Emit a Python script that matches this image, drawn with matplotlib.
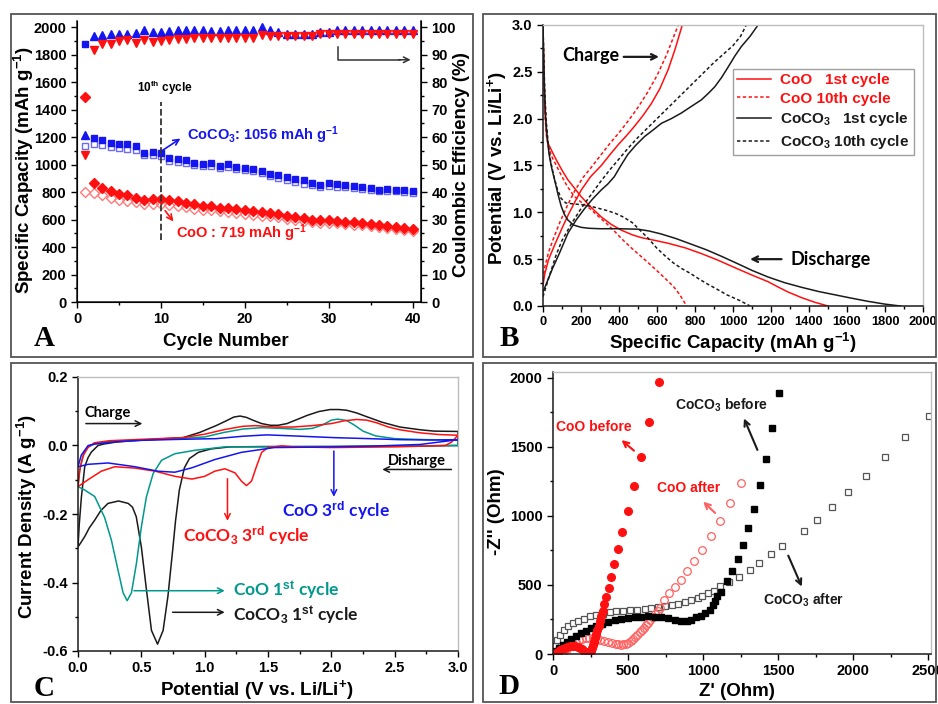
import numpy as np
import matplotlib
matplotlib.use("Agg")
import matplotlib.pyplot as plt
from matplotlib.patches import Rectangle
from matplotlib.ticker import MultipleLocator, FormatStrFormatter

plt.rcParams['font.family'] = ['Liberation Sans', 'DejaVu Sans']
plt.rcParams['font.weight'] = 'bold'
plt.rcParams['mathtext.fontset'] = 'custom'
plt.rcParams['mathtext.rm'] = 'Liberation Sans:bold'
plt.rcParams['mathtext.bf'] = 'Liberation Sans:bold'
plt.rcParams['mathtext.default'] = 'bf'
plt.rcParams['axes.unicode_minus'] = False

# ---------------- panel A : cycling ----------------
cycles = np.arange(1, 41)
coco3_cap_a = [1874, 1195, 1181, 1159, 1151, 1151, 1134, 1084, 1088, 1084,
               1047, 1038, 1030, 1013, 1001, 1011, 989, 1006, 982, 975,
               965, 950, 933, 926, 909, 897, 885, 868, 853, 863,
               856, 848, 841, 834, 829, 817, 822, 817, 812, 807]
coco3_cap_b = [1134, 1151, 1144, 1127, 1120, 1115, 1108, 1071, 1067, 1062,
               1023, 1016, 1008, 994, 987, 989, 975, 982, 965, 958,
               950, 936, 916, 904, 885, 873, 861, 848, 839, 844,
               839, 834, 827, 822, 817, 807, 810, 805, 800, 795]
coo_cap_a = [1491, 865, 829, 807, 788, 776, 759, 744, 752, 747,
             739, 732, 722, 710, 698, 696, 686, 686, 674, 667,
             662, 655, 647, 640, 628, 621, 613, 596, 594, 594,
             589, 582, 579, 575, 570, 558, 555, 545, 541, 533]
coo_cap_b = [800, 793, 776, 759, 744, 735, 725, 715, 715, 710,
             703, 696, 691, 679, 672, 667, 659, 657, 647, 642,
             635, 628, 623, 616, 606, 599, 591, 579, 577, 577,
             572, 565, 562, 558, 553, 543, 541, 531, 526, 519]
coco3_ce = [60.6, 96.6, 97.1, 97.6, 97.6, 97.3, 97.9, 98.8, 98.2, 98.2,
            98.5, 98.8, 98.8, 98.8, 99.0, 98.5, 98.5, 98.8, 98.8, 98.8,
            99.0, 100.0, 99.0, 98.2, 97.6, 97.3, 97.3, 97.6, 98.2, 98.2,
            98.8, 98.8, 98.8, 98.8, 98.8, 98.8, 98.8, 98.8, 98.8, 98.8]
coo_ce = [53.3, 91.5, 93.9, 93.9, 94.9, 95.4, 94.3, 95.2, 94.5, 94.9,
          95.2, 95.5, 95.8, 96.1, 96.1, 96.1, 96.1, 96.1, 96.1, 96.1,
          96.1, 97.0, 96.6, 96.6, 96.6, 96.6, 96.6, 96.6, 97.3, 97.3,
          97.3, 97.3, 97.3, 97.3, 97.3, 97.3, 97.3, 97.3, 97.3, 97.3]

# ---------------- panel B : charge / discharge ----------------
coo1_dis_x = [0, 5, 10, 18, 26, 45, 70, 100, 130, 165, 200, 250, 307, 360, 412,
              470, 517, 590, 658, 750, 833, 920, 1020, 1100, 1184, 1240, 1289,
              1360, 1430, 1500]
coo1_dis_y = [2.95, 2.5, 2.1, 1.85, 1.74, 1.66, 1.56, 1.45, 1.35, 1.26, 1.17,
              1.06, 0.95, 0.87, 0.81, 0.76, 0.73, 0.70, 0.67, 0.62, 0.56, 0.49,
              0.40, 0.33, 0.26, 0.2, 0.15, 0.09, 0.04, 0.0]
coo1_chg_x = [0, 10, 30, 61, 100, 132, 170, 202, 250, 307, 350, 395, 440, 482,
              525, 570, 615, 658, 695, 733]
coo1_chg_y = [0.22, 0.35, 0.5, 0.65, 0.83, 0.97, 1.12, 1.24, 1.38, 1.5, 1.61,
              1.72, 1.82, 1.92, 2.03, 2.16, 2.32, 2.52, 2.74, 3.0]
coo10_dis_x = [0, 5, 10, 18, 28, 45, 70, 100, 130, 165, 200, 247, 290, 335, 380,
               423, 465, 510, 555, 598, 640, 686, 720, 756]
coo10_dis_y = [2.95, 2.45, 2.05, 1.82, 1.7, 1.6, 1.5, 1.38, 1.27, 1.17, 1.11,
               1.04, 0.96, 0.88, 0.79, 0.70, 0.62, 0.54, 0.46, 0.38, 0.30, 0.21,
               0.12, 0.0]
coo10_chg_x = [0, 10, 30, 55, 90, 130, 170, 210, 250, 300, 350, 400, 450, 500,
               550, 600, 650, 712]
coo10_chg_y = [0.28, 0.42, 0.58, 0.72, 0.9, 1.08, 1.24, 1.37, 1.47, 1.6, 1.73,
               1.85, 1.98, 2.12, 2.28, 2.46, 2.68, 3.0]
cc1_dis_x = [0, 4, 8, 14, 22, 32, 45, 63, 78, 95, 112, 130, 160, 200, 240, 300,
             400, 500, 560, 620, 700, 780, 860, 940, 1037, 1100, 1184, 1270,
             1360, 1450, 1535, 1620, 1710, 1800, 1880]
cc1_dis_y = [3.0, 2.6, 2.3, 2.0, 1.8, 1.62, 1.48, 1.33, 1.2, 1.07, 0.98, 0.92,
             0.865, 0.84, 0.83, 0.825, 0.825, 0.82, 0.80, 0.77, 0.72, 0.66, 0.6,
             0.53, 0.44, 0.38, 0.31, 0.25, 0.2, 0.155, 0.12, 0.085, 0.05, 0.02, 0.0]
cc1_chg_x = [0, 20, 50, 90, 132, 175, 219, 260, 307, 340, 375, 410, 447, 490,
             535, 580, 623, 675, 728, 780, 833, 870, 904, 940, 974, 1010, 1044,
             1090, 1132]
cc1_chg_y = [0.15, 0.25, 0.4, 0.58, 0.78, 0.92, 1.04, 1.14, 1.24, 1.3, 1.38, 1.5,
             1.62, 1.72, 1.81, 1.88, 1.95, 2.0, 2.06, 2.13, 2.2, 2.27, 2.34, 2.44,
             2.55, 2.67, 2.77, 2.88, 3.0]
cc10_dis_x = [0, 5, 10, 18, 28, 40, 55, 75, 95, 120, 160, 212, 270, 335, 380,
              423, 470, 510, 555, 598, 640, 686, 730, 774, 820, 861, 915, 967,
              1037, 1090]
cc10_dis_y = [3.0, 2.6, 2.25, 1.95, 1.72, 1.55, 1.4, 1.25, 1.15, 1.1, 1.09, 1.08,
              1.055, 1.02, 0.99, 0.95, 0.89, 0.81, 0.72, 0.62, 0.54, 0.46, 0.40,
              0.35, 0.29, 0.24, 0.18, 0.12, 0.057, 0.0]
cc10_chg_x = [0, 30, 70, 100, 150, 200, 250, 300, 350, 400, 450, 500, 550, 600,
              650, 700, 750, 800, 850, 900, 950, 1000, 1040, 1070]
cc10_chg_y = [0.1, 0.3, 0.55, 0.7, 0.88, 1.04, 1.18, 1.32, 1.45, 1.57, 1.69, 1.8,
              1.9, 2.0, 2.1, 2.2, 2.3, 2.4, 2.5, 2.6, 2.69, 2.78, 2.88, 3.0]

# ---------------- panel C : cyclic voltammetry ----------------
cv_cc1_x = [3.0, 2.5, 2.0, 1.5, 1.2, 1.05, 0.95, 0.88, 0.84, 0.80, 0.77, 0.75,
            0.71, 0.672, 0.628, 0.58, 0.54, 0.50, 0.46, 0.43, 0.396, 0.32, 0.237,
            0.18, 0.132, 0.09, 0.053, 0.02, 0.0,
            0.01, 0.027, 0.053, 0.08, 0.106, 0.158, 0.2, 0.3, 0.435, 0.6, 0.83,
            0.96, 1.09, 1.17, 1.23, 1.28, 1.33, 1.38, 1.45, 1.52, 1.58, 1.65,
            1.73, 1.81, 1.9, 1.99, 2.06, 2.12, 2.2, 2.28, 2.4, 2.54, 2.7, 2.81,
            3.0, 3.0]
cv_cc1_y = [0.0, -0.002, -0.003, -0.003, -0.004, -0.01, -0.02, -0.038, -0.065,
            -0.13, -0.22, -0.296, -0.44, -0.54, -0.58, -0.54, -0.42, -0.296,
            -0.208, -0.18, -0.169, -0.162, -0.169, -0.19, -0.218, -0.24, -0.266,
            -0.285, -0.296,
            -0.23, -0.15, -0.062, -0.035, -0.019, 0.0, 0.004, 0.01, 0.014, 0.018,
            0.023, 0.038, 0.058, 0.072, 0.083, 0.086, 0.082, 0.074, 0.064, 0.059,
            0.059, 0.064, 0.076, 0.088, 0.099, 0.105, 0.105, 0.103, 0.095, 0.084,
            0.068, 0.054, 0.046, 0.042, 0.041, 0.0]
cv_coo1_x = [3.0, 2.0, 1.5, 1.16, 0.923, 0.765, 0.66, 0.593, 0.54, 0.5, 0.461,
             0.422, 0.388, 0.356, 0.316, 0.264, 0.21, 0.132, 0.053, 0.0,
             0.01, 0.026, 0.05, 0.08, 0.13, 0.25, 0.5, 0.8, 1.0, 1.15, 1.3, 1.45,
             1.6, 1.75, 1.85, 1.93, 2.0, 2.05, 2.12, 2.18, 2.25, 2.35, 2.5, 2.75,
             3.0, 3.0]
cv_coo1_y = [0.0, -0.003, -0.004, -0.004, -0.014, -0.024, -0.043, -0.082, -0.15,
             -0.238, -0.345, -0.43, -0.453, -0.43, -0.364, -0.277, -0.21, -0.149,
             -0.13, -0.12,
             -0.08, -0.05, -0.02, -0.005, 0.005, 0.012, 0.016, 0.02, 0.025, 0.038,
             0.048, 0.052, 0.05, 0.047, 0.05, 0.06, 0.074, 0.077, 0.073, 0.06,
             0.042, 0.028, 0.02, 0.017, 0.016, 0.0]
cv_cc3_x = [3.0, 2.95, 2.9, 2.5, 2.0, 1.7, 1.61, 1.5, 1.45, 1.41, 1.37, 1.33,
            1.29, 1.24, 1.16, 1.08, 1.0, 0.9, 0.765, 0.61, 0.45, 0.29, 0.184,
            0.079, 0.0,
            0.015, 0.04, 0.08, 0.13, 0.25, 0.5, 0.83, 1.0, 1.15, 1.3, 1.4, 1.55,
            1.7, 1.85, 2.0, 2.1, 2.2, 2.28, 2.36, 2.45, 2.54, 2.7, 2.85, 3.0]
cv_cc3_y = [0.03, 0.01, 0.0, -0.004, -0.006, -0.004, -0.001, -0.006, -0.02,
            -0.06, -0.104, -0.117, -0.104, -0.08, -0.068, -0.075, -0.09, -0.098,
            -0.09, -0.075, -0.066, -0.062, -0.075, -0.1, -0.12,
            -0.07, -0.03, -0.005, 0.008, 0.014, 0.018, 0.023, 0.033, 0.046, 0.056,
            0.058, 0.054, 0.054, 0.058, 0.064, 0.072, 0.076, 0.074, 0.066, 0.054,
            0.046, 0.037, 0.032, 0.03]
cv_coo3_x = [3.0, 2.7, 2.3, 2.0, 1.8, 1.55, 1.29, 1.08, 0.9, 0.765, 0.63, 0.45,
             0.237, 0.08, 0.0,
             0.026, 0.08, 0.13, 0.3, 0.5, 0.8, 1.09, 1.3, 1.49, 1.7, 2.02, 2.3,
             2.54, 2.8, 3.0]
cv_coo3_y = [0.017, 0.003, -0.002, -0.004, -0.005, -0.006, -0.02, -0.041, -0.065,
             -0.078, -0.075, -0.062, -0.051, -0.055, -0.062,
             -0.028, 0.0, 0.004, 0.011, 0.015, 0.018, 0.02, 0.027, 0.031, 0.028,
             0.023, 0.02, 0.017, 0.016, 0.017]

# ---------------- panel D : impedance ----------------
coo_before_re = [10, 22, 35, 48, 62, 78, 95, 112, 130, 148, 165, 180, 195, 208,
                 220, 232, 243, 252, 260, 267, 274, 281, 288, 296, 304, 313, 322,
                 331, 342, 354, 371, 387, 409, 431, 463, 498, 538, 587, 643, 705]
coo_before_im = [0, 8, 17, 26, 35, 43, 50, 55, 58, 57, 52, 44, 33, 22, 12, 6, 8,
                 20, 40, 63, 88, 114, 142, 172, 205, 240, 275, 309, 360, 413, 480,
                 560, 649, 758, 885, 1037, 1216, 1426, 1679, 1973]
coo_after_re = [60, 75, 92, 110, 130, 150, 172, 195, 218, 242, 266, 290, 315, 340,
                366, 392, 418, 434, 450, 467, 484, 500, 517, 534, 549, 563, 578,
                592, 606, 620, 635, 649, 665, 681, 697, 712, 743, 776, 810, 850,
                894, 943, 994, 1054, 1114, 1177, 1254]
coo_after_im = [5, 20, 38, 55, 72, 86, 98, 108, 115, 118, 117, 112, 105, 96, 87,
                79, 72, 69, 68, 70, 74, 82, 93, 106, 120, 138, 157, 175, 191, 210,
                227, 246, 268, 290, 310, 330, 388, 441, 483, 538, 603, 675, 755,
                856, 965, 1093, 1237]
cc_before_re = [18, 40, 67, 93, 122, 156, 189, 222, 256, 289, 329, 367, 411, 456,
                500, 545, 589, 634, 678, 723, 767, 812, 856, 890, 923, 956, 985,
                1012, 1046, 1064, 1079, 1094, 1117, 1157, 1194, 1230, 1266, 1303,
                1341, 1381, 1421, 1461, 1504]
cc_before_im = [19, 43, 68, 89, 109, 130, 150, 169, 186, 200, 217, 229, 244, 253,
                261, 268, 270, 273, 270, 265, 258, 248, 241, 241, 248, 268, 277,
                296, 321, 352, 381, 417, 446, 526, 598, 690, 791, 912, 1054, 1223,
                1414, 1638, 1894]
cc_after_re = [3, 11, 27, 44, 71, 100, 133, 167, 207, 245, 289, 334, 378, 423, 467,
               512, 560, 612, 656, 701, 745, 790, 834, 879, 923, 967, 992, 1030,
               1070, 1112, 1170, 1237, 1310, 1373, 1453, 1526, 1673, 1762, 1862,
               1968, 2084, 2211, 2344, 2504]
cc_after_im = [10, 55, 104, 140, 171, 200, 224, 241, 256, 273, 285, 292, 302, 309,
               314, 318, 321, 326, 331, 338, 345, 352, 364, 376, 388, 405, 422, 441,
               460, 490, 518, 555, 610, 657, 723, 784, 890, 970, 1066, 1172, 1286,
               1426, 1571, 1727]

RED = '#ff1010'
BLUE = '#1515f0'
TEAL = '#00998c'
BLK = '#1a1a1a'
GRAY_SP = '#bdbdbd'
CAL = ['Lato', 'DejaVu Sans']
SERIF = ['Liberation Serif', 'DejaVu Serif']

W, H = 938, 704
fig = plt.figure(figsize=(W / 100, H / 100), dpi=100)


def box(l, t, r, b):
    return [l / W, 1 - b / H, (r - l) / W, (b - t) / H]


def ftext(x, y, s, **kw):
    fig.text(x / W, 1 - y / H, s, **kw)


# panel frames
for l, t, r, b in [(11, 14, 473, 357), (483, 14, 936, 357),
                   (11, 363, 473, 702), (483, 363, 936, 702)]:
    fig.add_artist(Rectangle((l / W, 1 - b / H), (r - l) / W, (b - t) / H,
                             transform=fig.transFigure, fill=False,
                             edgecolor='#555555', lw=1.3))


def style(ax, light=True, xsize=10.5):
    ax.tick_params(which='major', direction='out', length=4, width=1,
                   labelsize=10.5)
    ax.tick_params(axis='x', labelsize=xsize)
    ax.tick_params(which='minor', direction='out', length=2.5, width=1)
    for s in ['left', 'bottom']:
        ax.spines[s].set_color(BLK)
        ax.spines[s].set_linewidth(1.1)
    if light:
        for s in ['top', 'right']:
            ax.spines[s].set_color(GRAY_SP)
            ax.spines[s].set_linewidth(1.0)


# ---------- A ----------
axA = fig.add_axes(box(77, 21, 421, 302))
axA.plot(cycles, coco3_cap_b, 's', ms=5, mfc='none', mec='#6a6af5', mew=1.0)
axA.plot(cycles, coco3_cap_a, 's', ms=5, color=BLUE)
axA.plot(cycles, coo_cap_b, 'D', ms=5, mfc='none', mec='#ff7a7a', mew=1.0)
axA.plot(cycles, coo_cap_a, 'D', ms=5, color=RED)
axA.set_xlim(0, 41)
axA.set_ylim(0, 2044)
axA.xaxis.set_major_locator(MultipleLocator(10))
axA.xaxis.set_minor_locator(MultipleLocator(5))
axA.yaxis.set_major_locator(MultipleLocator(200))
axA.yaxis.set_minor_locator(MultipleLocator(100))
style(axA, light=False)
axA.spines['top'].set_visible(False)
axA2 = axA.twinx()
axA2.plot(cycles, coco3_ce, '^', ms=6, color=BLUE)
axA2.plot(cycles, coo_ce, 'v', ms=6, color=RED)
axA2.set_ylim(0, 102.2)
axA2.yaxis.set_major_locator(MultipleLocator(10))
axA2.yaxis.set_minor_locator(MultipleLocator(5))
axA2.spines['top'].set_visible(False)
axA2.spines['right'].set_linewidth(1.1)
axA2.tick_params(which='major', direction='out', length=4, width=1, labelsize=10.5)
axA2.tick_params(which='minor', direction='out', length=2.5, width=1)

axA.plot([10, 10], [449, 1455], '--', color='#333333', lw=1.3)
axA.text(10.5, 1559, '10$^{th}$ cycle', fontsize=8.5, ha='center', va='center')
axA.annotate('', xy=(12.6, 1200), xytext=(9.9, 1091),
             arrowprops=dict(arrowstyle='->', color=BLUE, lw=1.2))
axA.text(13.1, 1210, 'CoCO$_3$: 1056 mAh g$^{-1}$', color=BLUE, fontsize=10.5,
         va='center')
axA.annotate('', xy=(11.7, 570), xytext=(10.3, 680),
             arrowprops=dict(arrowstyle='->', color=RED, lw=1.2))
axA.text(11.8, 504, 'CoO : 719 mAh g$^{-1}$', color=RED, fontsize=10.5,
         va='center')
axA.plot([31.15, 31.15, 38.5], [1855, 1762, 1762], color='#333333', lw=1.1)
axA.annotate('', xy=(40.1, 1762), xytext=(38.0, 1762),
             arrowprops=dict(arrowstyle='->', color='#333333', lw=1.1))

ftext(24, 170, 'Specific Capacity (mAh g$^{-1}$)', rotation=90, ha='center',
      va='center', fontsize=13.5)
ftext(461, 165, 'Coulombic Efficiency (%)', rotation=90, ha='center',
      va='center', fontsize=13.5)
ftext(226, 342, 'Cycle Number', ha='center', va='center', fontsize=13.5)
ftext(44, 338, 'A', family=SERIF, fontsize=21, ha='center', va='center')

# ---------- B ----------
axB = fig.add_axes(box(543, 25, 923, 306))
dash = (0, (2.2, 1.6))
axB.plot(coo1_dis_x, coo1_dis_y, '-', color=RED, lw=1.1, label='CoO   1st cycle')
axB.plot(coo1_chg_x, coo1_chg_y, '-', color=RED, lw=1.1)
axB.plot(coo10_dis_x, coo10_dis_y, linestyle=dash, color=RED, lw=1.1,
         label='CoO 10th cycle')
axB.plot(coo10_chg_x, coo10_chg_y, linestyle=dash, color=RED, lw=1.1)
axB.plot(cc1_dis_x, cc1_dis_y, '-', color=BLK, lw=1.1,
         label='CoCO$_3$   1st cycle')
axB.plot(cc1_chg_x, cc1_chg_y, '-', color=BLK, lw=1.1)
axB.plot(cc10_dis_x, cc10_dis_y, linestyle=dash, color=BLK, lw=1.1,
         label='CoCO$_3$ 10th cycle')
axB.plot(cc10_chg_x, cc10_chg_y, linestyle=dash, color=BLK, lw=1.1)
axB.set_xlim(0, 2000)
axB.set_ylim(0, 3.0)
axB.xaxis.set_major_locator(MultipleLocator(200))
axB.xaxis.set_minor_locator(MultipleLocator(100))
axB.yaxis.set_major_locator(MultipleLocator(0.5))
axB.yaxis.set_minor_locator(MultipleLocator(0.25))
axB.yaxis.set_major_formatter(FormatStrFormatter('%.1f'))
style(axB, xsize=9.3)
leg = axB.legend(loc='upper right', bbox_to_anchor=(0.976, 0.845), fontsize=11,
                 labelcolor='linecolor', fancybox=False, edgecolor='#888888',
                 handlelength=2.2, labelspacing=0.3, borderpad=0.3,
                 handletextpad=0.6, borderaxespad=0)
leg.get_frame().set_linewidth(1.0)
axB.text(250, 2.67, 'Charge', family=CAL, fontsize=13, ha='center', va='center')
axB.annotate('', xy=(625, 2.66), xytext=(410, 2.66),
             arrowprops=dict(arrowstyle='->', color=BLK, lw=1.6))
axB.text(1300, 0.5, 'Discharge', family=CAL, fontsize=13, va='center')
axB.annotate('', xy=(1075, 0.5), xytext=(1270, 0.5),
             arrowprops=dict(arrowstyle='->', color=BLK, lw=1.6))

ftext(497, 168, 'Potential (V vs. Li/Li$^{+}$)', rotation=90, ha='center',
      va='center', fontsize=13.5)
ftext(733, 343, 'Specific Capacity (mAh g$^{-1}$)', ha='center', va='center',
      fontsize=13.5)
ftext(509, 338, 'B', family=SERIF, fontsize=21, ha='center', va='center')

# ---------- C ----------
axC = fig.add_axes(box(78, 377, 458, 651))
axC.plot(cv_cc1_x, cv_cc1_y, color=BLK, lw=1.1)
axC.plot(cv_coo1_x, cv_coo1_y, color=TEAL, lw=1.1)
axC.plot(cv_cc3_x, cv_cc3_y, color=RED, lw=1.1)
axC.plot(cv_coo3_x, cv_coo3_y, color=BLUE, lw=1.1)
axC.set_xlim(0, 3.0)
axC.set_ylim(-0.6, 0.2)
axC.xaxis.set_major_locator(MultipleLocator(0.5))
axC.xaxis.set_minor_locator(MultipleLocator(0.25))
axC.yaxis.set_major_locator(MultipleLocator(0.2))
axC.yaxis.set_minor_locator(MultipleLocator(0.1))
axC.xaxis.set_major_formatter(FormatStrFormatter('%.1f'))
axC.yaxis.set_major_formatter(FormatStrFormatter('%.1f'))
style(axC)
axC.text(0.053, 0.094, 'Charge', family=CAL, fontsize=10.5, va='center')
axC.annotate('', xy=(0.53, 0.064), xytext=(0.04, 0.064),
             arrowprops=dict(arrowstyle='->', color=BLK, lw=1.1))
axC.text(2.45, -0.046, 'Disharge', family=CAL, fontsize=10.5, va='center')
axC.annotate('', xy=(2.38, -0.07), xytext=(2.97, -0.07),
             arrowprops=dict(arrowstyle='->', color=BLK, lw=1.1))
axC.annotate('', xy=(1.18, -0.228), xytext=(1.18, -0.089),
             arrowprops=dict(arrowstyle='->', color=RED, lw=1.1))
axC.text(0.83, -0.262, 'CoCO$_3$ 3$^{rd}$ cycle', color=RED, family=CAL,
         fontsize=12.5, va='center')
axC.annotate('', xy=(2.02, -0.158), xytext=(2.02, -0.008),
             arrowprops=dict(arrowstyle='->', color=BLUE, lw=1.1))
axC.text(1.61, -0.19, 'CoO 3$^{rd}$ cycle', color=BLUE, family=CAL,
         fontsize=12.5, va='center')
axC.annotate('', xy=(1.18, -0.424), xytext=(0.42, -0.424),
             arrowprops=dict(arrowstyle='->', color=TEAL, lw=1.1))
axC.text(1.22, -0.424, 'CoO 1$^{st}$ cycle', color=TEAL, family=CAL,
         fontsize=12.5, va='center')
axC.annotate('', xy=(1.18, -0.487), xytext=(0.725, -0.487),
             arrowprops=dict(arrowstyle='->', color=BLK, lw=1.1))
axC.text(1.22, -0.497, 'CoCO$_3$ 1$^{st}$ cycle', color=BLK, family=CAL,
         fontsize=12.5, va='center')

ftext(27, 516, 'Current Density (A g$^{-1}$)', rotation=90, ha='center',
      va='center', fontsize=13.5)
ftext(257, 690, 'Potential (V vs. Li/Li$^{+}$)', ha='center', va='center',
      fontsize=13.5)
ftext(44, 689, 'C', family=SERIF, fontsize=21, ha='center', va='center')

# ---------- D ----------
axD = fig.add_axes(box(553, 372, 931, 654))
axD.plot(cc_after_re, cc_after_im, 's', ms=5, mfc='white', mec='#555555', mew=0.9)
axD.plot(coo_after_re, coo_after_im, 'o', ms=5.5, mfc='none', mec='#ff6060',
         mew=0.9)
axD.plot(cc_before_re, cc_before_im, 's', ms=5, color='black')
axD.plot(coo_before_re, coo_before_im, 'o', ms=5.5, color=RED)
axD.set_xlim(0, 2520)
axD.set_ylim(0, 2043)
axD.xaxis.set_major_locator(MultipleLocator(500))
axD.xaxis.set_minor_locator(MultipleLocator(250))
axD.yaxis.set_major_locator(MultipleLocator(500))
axD.yaxis.set_minor_locator(MultipleLocator(250))
style(axD)
axD.text(275, 1645, 'CoO before', color=RED, fontsize=10, ha='center',
         va='center')
axD.annotate('', xy=(443, 1563), xytext=(554, 1460),
             arrowprops=dict(arrowstyle='->', color=RED, lw=1.5))
axD.text(905, 1206, 'CoO after', color=RED, fontsize=10, ha='center',
         va='center')
axD.annotate('', xy=(988, 1117), xytext=(1094, 1008),
             arrowprops=dict(arrowstyle='->', color='#ff6060', lw=1.5))
axD.text(1123, 1805, 'CoCO$_3$ before', color=BLK, fontsize=10, ha='center',
         va='center')
axD.annotate('', xy=(1266, 1725), xytext=(1370, 1460),
             arrowprops=dict(arrowstyle='->', color=BLK, lw=1.5))
axD.text(1673, 388, 'CoCO$_3$ after', color=BLK, fontsize=10, ha='center',
         va='center')
axD.annotate('', xy=(1666, 470), xytext=(1561, 731),
             arrowprops=dict(arrowstyle='->', color=BLK, lw=1.5))

ftext(496, 512, "-Z'' (Ohm)", rotation=90, ha='center', va='center',
      fontsize=13.5)
ftext(737, 691, "Z' (Ohm)", ha='center', va='center', fontsize=13.5)
ftext(509, 687, 'D', family=SERIF, fontsize=21, ha='center', va='center')

fig.savefig('out.png', dpi=100)
